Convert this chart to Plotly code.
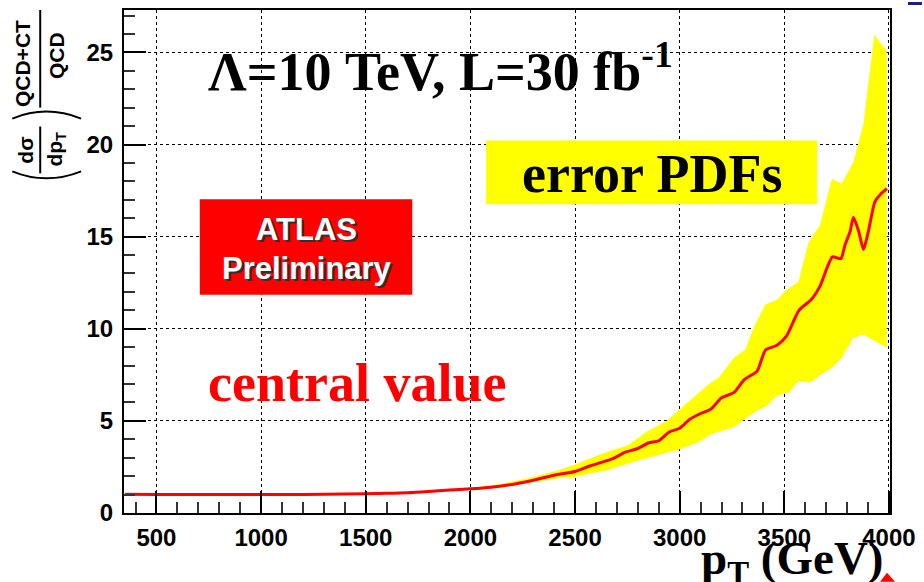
import plotly.graph_objects as go

# ---- data ----
central_x = [350, 500, 700, 900, 1100, 1300, 1500, 1600, 1700, 1800, 1900, 2000, 2100, 2200, 2300,
             2400, 2500, 2570, 2680, 2740, 2800, 2850, 2900, 2950, 3000, 3050, 3100, 3150, 3200,
             3260, 3310, 3370, 3410, 3465, 3510, 3570, 3630, 3670, 3730, 3770, 3790, 3815, 3830,
             3855, 3878, 3900, 3933, 3960, 3990]
central_y = [1.02, 1.0, 1.0, 1.01, 1.0, 1.02, 1.05, 1.07, 1.1, 1.17, 1.25, 1.31, 1.4, 1.55, 1.78,
             2.05, 2.25, 2.55, 2.95, 3.3, 3.5, 3.8, 3.92, 4.4, 4.6, 5.1, 5.4, 5.65, 6.25,
             6.55, 7.25, 7.7, 8.85, 9.1, 9.6, 11.0, 11.6, 12.3, 13.9, 13.8, 14.55, 15.3, 16.05,
             15.3, 14.3, 15.2, 16.9, 17.3, 17.6]

upper_x = [1800, 2000, 2155, 2300, 2425, 2490, 2650, 2750, 2846, 2941, 3030, 3092, 3140, 3187,
           3259, 3314, 3353, 3409, 3465, 3503, 3568, 3616, 3671, 3727, 3774, 3830, 3878, 3930, 3990]
upper_y = [1.2, 1.35, 1.6, 1.95, 2.35, 2.59, 3.31, 3.67, 4.44, 5.02, 5.92, 6.54, 7.0, 7.35,
           8.43, 8.88, 10.05, 11.31, 11.58, 12.03, 12.57, 14.7, 15.63, 18.14, 17.87, 19.04, 21.1, 25.96, 25.06]

lower_x = [1800, 2000, 2155, 2300, 2425, 2490, 2650, 2807, 2893, 2997, 3092, 3155, 3259, 3314,
           3370, 3418, 3465, 3521, 3568, 3624, 3679, 3727, 3774, 3830, 3878, 3933, 3990]
lower_y = [1.14, 1.27, 1.4, 1.65, 1.9, 1.96, 2.32, 2.86, 3.13, 3.44, 3.85, 4.3, 4.66, 5.11,
           5.56, 5.83, 6.36, 6.54, 7.17, 7.08, 7.54, 7.89, 8.43, 9.51, 9.69, 9.33, 8.97]

x_ticks = [500, 1000, 1500, 2000, 2500, 3000, 3500, 4000]
y_ticks = [0, 5, 10, 15, 20, 25]

# ---- figure geometry (pixels) ----
W, H = 924, 582
L, R, T, B = 124, 32, 8, 69
PW, PH = W - L - R, H - T - B


def px(p):
    return (p - L) / PW


def py(p):
    return (H - B - p) / PH


fig = go.Figure()

fig.add_trace(go.Scatter(
    x=upper_x + lower_x[::-1], y=upper_y + lower_y[::-1],
    fill="toself", fillcolor="#ffff00", line=dict(width=0, color="#ffff00"),
    mode="lines", hoverinfo="skip", showlegend=False))

fig.add_trace(go.Scatter(
    x=central_x, y=central_y, mode="lines",
    line=dict(color="#ff0000", width=3, shape="spline", smoothing=0.6),
    showlegend=False))

axis_common = dict(
    showline=True, linewidth=2, linecolor="black", mirror=True,
    ticks="inside", ticklen=22, tickwidth=1.5, tickcolor="black",
    showgrid=True, gridcolor="black", griddash="dot", gridwidth=1,
    zeroline=False,
    tickfont=dict(family="Liberation Sans", size=24, color="black", weight="bold"),
)

fig.update_xaxes(range=[345, 4005], tickvals=x_ticks, ticktext=[str(v) for v in x_ticks],
                 ticklabelstandoff=2,
                 minor=dict(dtick=100, tick0=0, ticks="inside", ticklen=11, tickcolor="#333", showgrid=False),
                 **axis_common)
fig.update_yaxes(range=[0, 27.3], tickvals=y_ticks, ticktext=[str(v) for v in y_ticks],
                 ticklabelstandoff=4,
                 minor=dict(dtick=1, tick0=0, ticks="inside", ticklen=11, tickcolor="#333", showgrid=False),
                 **axis_common)

serif = "Liberation Serif"
sans = "Liberation Sans"
ann = []


def add(text, x, y, size, family, color="black", xanchor="center", yanchor="middle", angle=0, bold=True):
    ann.append(dict(text=text, x=px(x), y=py(y), xref="paper", yref="paper",
                    xanchor=xanchor, yanchor=yanchor, showarrow=False, textangle=angle,
                    font=dict(family=family, size=size, color=color, weight="bold" if bold else "normal")))


add("Λ=10 TeV, L=30 fb<sup>-1</sup>", 206, 66, 54, serif, xanchor="left")
add("error PDFs", 653, 173, 54, serif)
add("central value", 206, 382, 54, serif, color="#ff0000", xanchor="left")
add("p<sub>T</sub> (GeV)", 888, 562, 47, serif, xanchor="right")

# ATLAS Preliminary (with shadow)
for dx, col in [(2, "#303030"), (0, "white")]:
    add("ATLAS", 307 + dx, 228 + dx, 31, sans, color=col)
    add("Preliminary", 307 + dx, 268 + dx, 31, sans, color=col)

# y axis title built from rotated fractions
add("dσ", 25, 149, 21, sans, angle=-90)
add("dp<sub>T</sub>", 56, 148, 21, sans, angle=-90)
add("QCD+CT", 23, 62, 21, sans, angle=-90)
add("QCD", 57, 54, 21, sans, angle=-90)

fig.update_layout(annotations=ann)

shapes = [
    dict(type="rect", xref="paper", yref="paper", x0=px(487), x1=px(819), y0=py(139), y1=py(203),
         fillcolor="#ffff00", line=dict(width=0), layer="above"),
    dict(type="rect", xref="paper", yref="paper", x0=px(200), x1=px(413), y0=py(198), y1=py(294),
         fillcolor="#ff0000", line=dict(width=0), layer="above"),
    # fraction bars
    dict(type="line", xref="paper", yref="paper", x0=px(40), x1=px(40), y0=py(125), y1=py(172),
         line=dict(color="black", width=2)),
    dict(type="line", xref="paper", yref="paper", x0=px(40), x1=px(40), y0=py(8), y1=py(106),
         line=dict(color="black", width=2)),
    # parentheses
    dict(type="path", xref="paper", yref="paper",
         path=f"M {px(12)},{py(170)} Q {px(46)},{py(184)} {px(81)},{py(170)}",
         line=dict(color="black", width=2)),
    dict(type="path", xref="paper", yref="paper",
         path=f"M {px(12)},{py(117)} Q {px(46)},{py(103)} {px(81)},{py(117)}",
         line=dict(color="black", width=2)),
    # corner decorations
    dict(type="path", xref="paper", yref="paper",
         path=f"M {px(882)},{py(582)} L {px(889)},{py(573)} L {px(897)},{py(582)} Z",
         fillcolor="#ff0000", line=dict(width=0)),
    dict(type="rect", xref="paper", yref="paper", x0=px(910), x1=px(924), y0=py(0), y1=py(3),
         fillcolor="#1a1a80", line=dict(width=0)),
]
fig.update_layout(shapes=shapes)

fig.update_layout(width=W, height=H, margin=dict(l=L, r=R, t=T, b=B, pad=0),
                  paper_bgcolor="white", plot_bgcolor="white", showlegend=False)

fig.write_html("out.html")
